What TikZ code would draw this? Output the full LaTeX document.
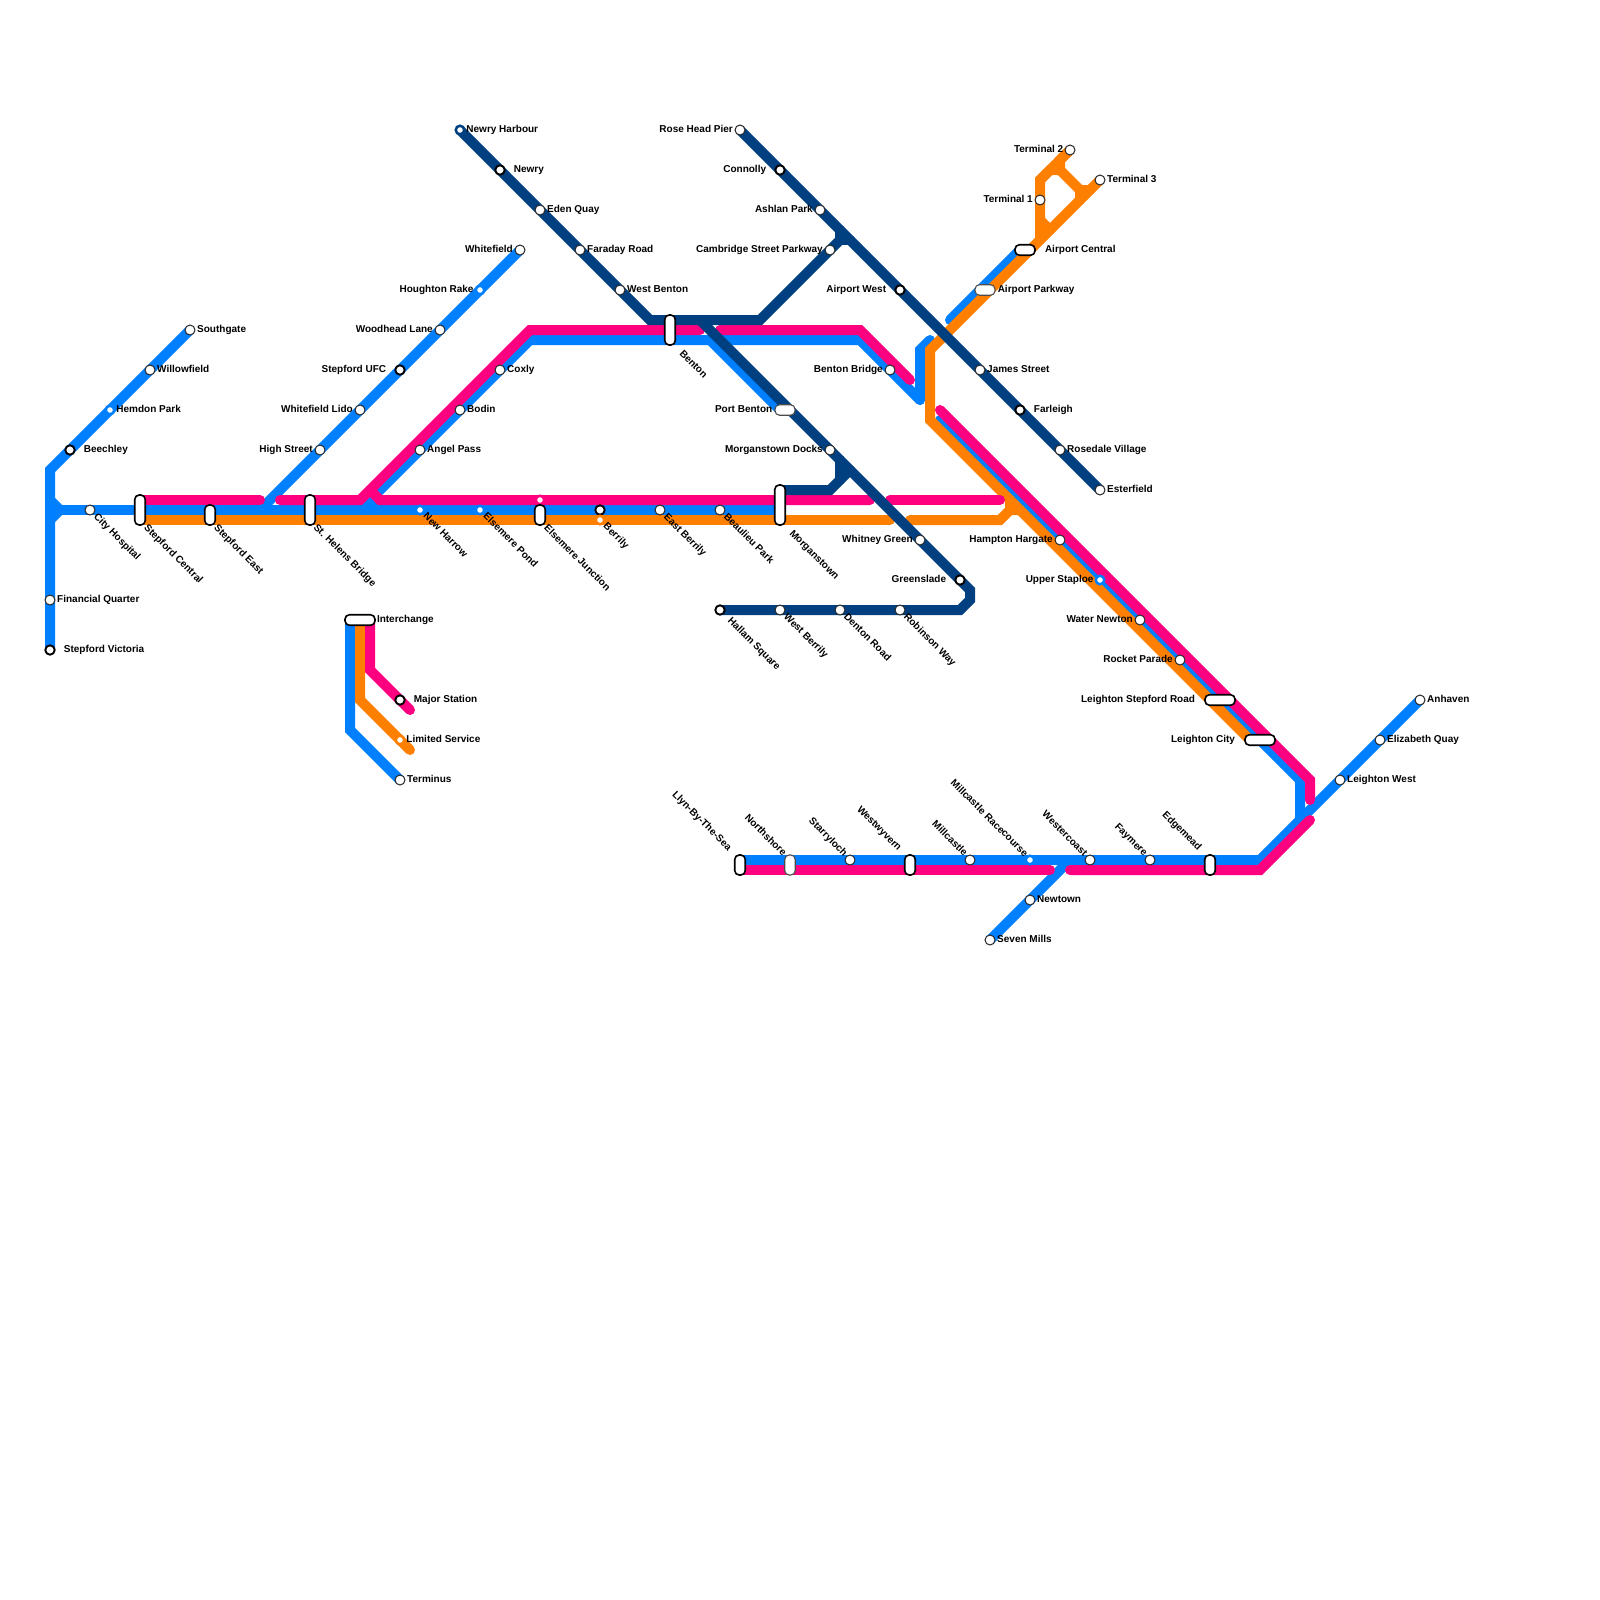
\documentclass[tikz,border=0pt]{standalone}
\usepackage{fontspec}
\setmainfont{Liberation Sans}
\usetikzlibrary{positioning, backgrounds}
\definecolor{lineBlue}{RGB}{0,128,255}
\definecolor{linePink}{RGB}{255,0,128}
\definecolor{lineOrange}{RGB}{255,128,0}
\definecolor{lineNavy}{RGB}{0,64,128}

\begin{document}
\begin{tikzpicture}[
    x=1pt, y=-1pt,
    stn/.style={circle, draw=black!85, fill=white, line width=1pt, outer sep=0pt, minimum size=10pt, inner sep=0pt},
    major/.style={circle, draw=black, fill=white, line width=1.9pt, outer sep=0pt, minimum size=9.4pt, inner sep=0pt},
    ltd/.style={circle, draw=#1, fill=white, line width=2.5pt, outer sep=0pt, minimum size=8.5pt, inner sep=0pt},
    pillv/.style={rectangle, rounded corners=4.4pt, draw=black, fill=white, line width=1.6pt, minimum width=10.5pt, minimum height=#1, inner sep=0pt},
    pillh/.style={rectangle, rounded corners=4.4pt, draw=black, fill=white, line width=1.6pt, minimum height=10.5pt, minimum width=#1, inner sep=0pt},
    thin pill/.style={draw=black!70, line width=1.1pt},
    rail/.style={draw=#1, line width=10pt, line cap=round, line join=miter},
    lbl/.style={font=\fontsize{10}{12}\selectfont\bfseries, inner sep=0pt, text height=5.5pt, text depth=1pt},
    lbldn/.style={lbl, rotate=-45, anchor=west},
    lblup/.style={lbl, rotate=-45, anchor=east}
]
\useasboundingbox (0,0) rectangle (1600,1600);

% West branch
\node[stn] (southgate) at (190,330) {};
\node[stn] (willowfield) at (150,370) {};
\node[ltd=lineBlue] (hemdon) at (110,410) {};
\node[major] (beechley) at (70,450) {};
\node[stn] (financial) at (50,600) {};
\node[major] (victoria) at (50,650) {};
\node[lbl, right=2pt of southgate] (southgatet) {Southgate};
\node[lbl, right=2pt of willowfield] (willowfieldt) {Willowfield};
\node[lbl, right=2pt of hemdon] (hemdont) {Hemdon Park};
\node[lbl, right=9pt of beechley] (beechleyt) {Beechley};
\node[lbl, right=2pt of financial] (financialt) {Financial Quarter};
\node[lbl, right=9pt of victoria] (victoriat) {Stepford Victoria};

% Main east-west stations
\node[stn] (cityhosp) at (90,510) {};
\node[pillv=30pt] (stepcentral) at (140,510) {};
\node[pillv=20pt] (stepeast) at (210,515) {};
\node[pillv=30pt] (sthelens) at (310,510) {};
\node[ltd=lineBlue] (newharrow) at (420,510) {};
\node[ltd=lineBlue] (elsmpond) at (480,510) {};
\node[ltd=linePink] (elsmtop) at (540,500) {};
\node[pillv=20pt] (elsmjunc) at (540,515) {};
\node[major] (berrily) at (600,510) {};
\node[ltd=lineOrange] (berrilyo) at (600,520) {};
\node[stn] (eastberrily) at (660,510) {};
\node[stn] (beaulieu) at (720,510) {};
\node[pillv=40pt] (morgan) at (780,505) {};
\node[lbl, below right=2.2pt and 1.2pt of cityhosp, lbldn] (cityhospt) {City Hospital};
\node[lbl, below right=1pt and -1pt of stepcentral, lbldn] (stepcentralt) {Stepford Central};
\node[lbl, below right=1pt and -1pt of stepeast, lbldn] (stepeastt) {Stepford East};
\node[lbl, below right=0.5pt and -1.5pt of sthelens, lbldn] (sthelenst) {St. Helens Bridge};
\node[lbl, below right=2.2pt and 1.2pt of newharrow, lbldn] (newharrowt) {New Harrow};
\node[lbl, below right=2.2pt and 1.2pt of elsmpond, lbldn] (elsmpondt) {Elsemere Pond};
\node[lbl, below right=1pt and -1pt of elsmjunc, lbldn] (elsmjunct) {Elsemere Junction};
\node[lbl, below right=2.2pt and 1.2pt of berrilyo, lbldn] (berrilyt) {Berrily};
\node[lbl, below right=2.2pt and 1.2pt of eastberrily, lbldn] (eastberrilyt) {East Berrily};
\node[lbl, below right=2.2pt and 1.2pt of beaulieu, lbldn] (beaulieut) {Beaulieu Park};
\node[lbl, below right=6.5pt and 4.5pt of morgan, lbldn] (morgant) {Morganstown};

% Whitefield branch
\node[stn] (whitefield) at (520,250) {};
\node[ltd=lineBlue] (houghton) at (480,290) {};
\node[stn] (woodhead) at (440,330) {};
\node[major] (stepufc) at (400,370) {};
\node[stn] (whitelido) at (360,410) {};
\node[stn] (highst) at (320,450) {};
\node[lbl, left=2pt of whitefield] (whitefieldt) {Whitefield};
\node[lbl, left=2pt of houghton] (houghtont) {Houghton Rake};
\node[lbl, left=2pt of woodhead] (woodheadt) {Woodhead Lane};
\node[lbl, left=9pt of stepufc] (stepufct) {Stepford UFC};
\node[lbl, left=2pt of whitelido] (whitelidot) {Whitefield Lido};
\node[lbl, left=2pt of highst] (highstt) {High Street};

% Coxly diagonal
\node[stn] (coxly) at (500,370) {};
\node[stn] (bodin) at (460,410) {};
\node[stn] (angel) at (420,450) {};
\node[lbl, right=2pt of coxly] (coxlyt) {Coxly};
\node[lbl, right=2pt of bodin] (bodint) {Bodin};
\node[lbl, right=2pt of angel] (angelt) {Angel Pass};

% Navy north
\node[ltd=lineNavy] (harbour) at (460,130) {};
\node[major] (newry) at (500,170) {};
\node[stn] (eden) at (540,210) {};
\node[stn] (faraday) at (580,250) {};
\node[stn] (westbenton) at (620,290) {};
\node[pillv=30pt] (benton) at (670,330) {};
\node[lbl, right=2pt of harbour] (harbourt) {Newry Harbour};
\node[lbl, right=9pt of newry] (newryt) {Newry};
\node[lbl, right=2pt of eden] (edent) {Eden Quay};
\node[lbl, right=2pt of faraday] (faradayt) {Faraday Road};
\node[lbl, right=2pt of westbenton] (westbentont) {West Benton};
\node[lbl, below right=6.5pt and 4.5pt of benton, lbldn] (bentont) {Benton};

% Navy pier line
\node[stn] (rosehead) at (740,130) {};
\node[major] (connolly) at (780,170) {};
\node[stn] (ashlan) at (820,210) {};
\node[stn] (cambridge) at (830,250) {};
\node[major] (airportw) at (900,290) {};
\node[stn] (james) at (980,370) {};
\node[major] (farleigh) at (1020,410) {};
\node[stn] (rosedale) at (1060,450) {};
\node[stn] (esterfield) at (1100,490) {};
\node[lbl, left=2pt of rosehead] (roseheadt) {Rose Head Pier};
\node[lbl, left=9pt of connolly] (connollyt) {Connolly};
\node[lbl, left=2pt of ashlan] (ashlant) {Ashlan Park};
\node[lbl, left=2pt of cambridge] (cambridget) {Cambridge Street Parkway};
\node[lbl, left=9pt of airportw] (airportwt) {Airport West};
\node[lbl, right=2pt of james] (jamest) {James Street};
\node[lbl, right=9pt of farleigh] (farleight) {Farleigh};
\node[lbl, right=2pt of rosedale] (rosedalet) {Rosedale Village};
\node[lbl, right=2pt of esterfield] (esterfieldt) {Esterfield};

% Navy south
\node[pillh=20pt, thin pill] (portbenton) at (785,410) {};
\node[stn] (morgandocks) at (830,450) {};
\node[stn] (whitney) at (920,540) {};
\node[major] (greenslade) at (960,580) {};
\node[stn] (robinson) at (900,610) {};
\node[stn] (denton) at (840,610) {};
\node[stn] (westberrily) at (780,610) {};
\node[major] (hallam) at (720,610) {};
\node[lbl, left=2pt of portbenton] (portbentont) {Port Benton};
\node[lbl, left=2pt of morgandocks] (morgandockst) {Morganstown Docks};
\node[lbl, left=2pt of whitney] (whitneyt) {Whitney Green};
\node[lbl, left=9pt of greenslade] (greensladet) {Greenslade};
\node[lbl, below right=2.2pt and 1.2pt of robinson, lbldn] (robinsont) {Robinson Way};
\node[lbl, below right=2.2pt and 1.2pt of denton, lbldn] (dentont) {Denton Road};
\node[lbl, below right=2.2pt and 1.2pt of westberrily, lbldn] (westberrilyt) {West Berrily};
\node[lbl, below right=6.5pt and 5.5pt of hallam, lbldn] (hallamt) {Hallam Square};

% Airport
\node[stn] (benbridge) at (890,370) {};
\node[pillh=20pt, thin pill] (airportpk) at (985,290) {};
\node[pillh=20pt] (airportc) at (1025,250) {};
\node[stn] (term1) at (1040,200) {};
\node[stn] (term2) at (1070,150) {};
\node[stn] (term3) at (1100,180) {};
\node[lbl, left=2pt of benbridge] (benbridget) {Benton Bridge};
\node[lbl, right=2pt of airportpk] (airportpkt) {Airport Parkway};
\node[lbl, right=9pt of airportc] (airportct) {Airport Central};
\node[lbl, left=2pt of term1] (term1t) {Terminal 1};
\node[lbl, left=1.5pt of term2] (term2t) {Terminal 2};
\node[lbl, right=2pt of term3] (term3t) {Terminal 3};

% Long diagonal
\node[stn] (hampton) at (1060,540) {};
\node[ltd=lineBlue] (staploe) at (1100,580) {};
\node[stn] (waternewton) at (1140,620) {};
\node[stn] (rocket) at (1180,660) {};
\node[pillh=30pt] (leightonsr) at (1220,700) {};
\node[pillh=30pt] (leightonc) at (1260,740) {};
\node[lbl, left=2pt of hampton] (hamptont) {Hampton Hargate};
\node[lbl, left=2pt of staploe] (staploet) {Upper Staploe};
\node[lbl, left=2pt of waternewton] (waternewtont) {Water Newton};
\node[lbl, left=2pt of rocket] (rockett) {Rocket Parade};
\node[lbl, left=9pt of leightonsr] (leightonsrt) {Leighton Stepford Road};
\node[lbl, left=9pt of leightonc] (leightonct) {Leighton City};

% East branch
\node[stn] (anhaven) at (1420,700) {};
\node[stn] (elizabeth) at (1380,740) {};
\node[stn] (leightonw) at (1340,780) {};
\node[lbl, right=2pt of anhaven] (anhavent) {Anhaven};
\node[lbl, right=2pt of elizabeth] (elizabetht) {Elizabeth Quay};
\node[lbl, right=2pt of leightonw] (leightonwt) {Leighton West};

% South coast
\node[pillv=20pt] (llyn) at (740,865) {};
\node[pillv=20pt, thin pill] (northshore) at (790,865) {};
\node[stn] (starry) at (850,860) {};
\node[pillv=20pt] (westwyvern) at (910,865) {};
\node[stn] (millcastle) at (970,860) {};
\node[ltd=lineBlue] (millrace) at (1030,860) {};
\node[stn] (westercoast) at (1090,860) {};
\node[stn] (faymere) at (1150,860) {};
\node[pillv=20pt] (edgemead) at (1210,865) {};
\node[stn] (newtown) at (1030,900) {};
\node[stn] (sevenmills) at (990,940) {};
\node[lbl, above left=4.5pt and 4.5pt of llyn, lblup] (llynt) {Llyn-By-The-Sea};
\node[lbl, above left=-0.5pt and 0pt of northshore, lblup] (northshoret) {Northshore};
\node[lbl, above left=1.3pt and 1.3pt of starry, lblup] (starryt) {Starryloch};
\node[lbl, above left=4.5pt and 4.5pt of westwyvern, lblup] (westwyvernt) {Westwyvern};
\node[lbl, above left=1.3pt and 1.3pt of millcastle, lblup] (millcastlet) {Millcastle};
\node[lbl, above left=1.3pt and 1.3pt of millrace, lblup] (millracet) {Millcastle Racecourse};
\node[lbl, above left=1.3pt and 1.3pt of westercoast, lblup] (westercoastt) {Westercoast};
\node[lbl, above left=1.3pt and 1.3pt of faymere, lblup] (faymeret) {Faymere};
\node[lbl, above left=4.5pt and 4.5pt of edgemead, lblup] (edgemeadt) {Edgemead};
\node[lbl, right=2pt of newtown] (newtownt) {Newtown};
\node[lbl, right=2pt of sevenmills] (sevenmillst) {Seven Mills};

% Key
\node[pillh=30pt] (keyint) at (360,620) {};
\node[major] (keymajor) at (400,700) {};
\node[ltd=lineOrange] (keyltd) at (400,740) {};
\node[stn] (keyterm) at (400,780) {};
\node[lbl, right=1pt of keyint] (keyintt) {Interchange};
\node[lbl, right=9pt of keymajor] (keymajort) {Major Station};
\node[lbl, right=2pt of keyltd] (keyltdt) {Limited Service};
\node[lbl, right=2pt of keyterm] (keytermt) {Terminus};

% === Way points ===
\coordinate (ba) at (50,470);
\coordinate (bb) at (50,500);
\coordinate (bc) at (60,510);
\coordinate (bd) at (50,520);
\coordinate (be) at (775,510);
\coordinate (bf) at (260,510);
\coordinate (bg) at (360,510);
\coordinate (bh) at (530,340);
\coordinate (bi) at (710,340);
\coordinate (bj) at (780,410);
\coordinate (bk) at (380,510);
\coordinate (bl) at (370,500);
\coordinate (bm) at (930,340);
\coordinate (bn) at (920,350);
\coordinate (bo) at (920,400);
\coordinate (bp) at (860,340);
\coordinate (bq) at (720,340);
\coordinate (br) at (950,320);
\coordinate (bs) at (1020,250);
\coordinate (bt) at (940,420);
\coordinate (bu) at (1300,780);
\coordinate (bv) at (1300,820);
\coordinate (bw) at (1260,860);
\coordinate (bx) at (740,860);
\coordinate (by) at (1070,860);
\coordinate (keyb1) at (350,620);
\coordinate (keyb2) at (350,730);

\coordinate (oa) at (140,520);
\coordinate (ob) at (890,520);
\coordinate (oc) at (910,520);
\coordinate (od) at (1000,520);
\coordinate (oe) at (1010,510);
\coordinate (of) at (1020,510);
\coordinate (og) at (1010,500);
\coordinate (oh) at (930,350);
\coordinate (oi) at (930,420);
\coordinate (oj) at (1250,740);
\coordinate (ok) at (1040,240);
\coordinate (ol) at (1040,180);
\coordinate (om) at (1050,170);
\coordinate (on) at (1060,170);
\coordinate (oo) at (1060,160);
\coordinate (op) at (1080,190);
\coordinate (oq) at (1090,190);
\coordinate (or) at (1080,200);
\coordinate (os) at (1040,220);
\coordinate (ot) at (1050,230);
\coordinate (keyo1) at (360,620);
\coordinate (keyo2) at (360,700);
\coordinate (keyo3) at (410,750);

\coordinate (pa) at (140,500);
\coordinate (pb) at (260,500);
\coordinate (pc) at (280,500);
\coordinate (pd) at (360,500);
\coordinate (pe) at (530,330);
\coordinate (pf) at (700,330);
\coordinate (pg) at (370,490);
\coordinate (ph) at (380,500);
\coordinate (pi) at (870,500);
\coordinate (pj) at (890,500);
\coordinate (pk) at (1000,500);
\coordinate (pl) at (720,330);
\coordinate (pm) at (860,330);
\coordinate (pn) at (910,380);
\coordinate (po) at (940,410);
\coordinate (pq) at (1310,780);
\coordinate (pr) at (1310,800);
\coordinate (ps) at (1310,820);
\coordinate (pt) at (1260,870);
\coordinate (pu) at (1070,870);
\coordinate (pv) at (1050,870);
\coordinate (pw) at (740,870);
\coordinate (keyp1) at (370,620);
\coordinate (keyp2) at (370,670);
\coordinate (keyp3) at (410,710);

\coordinate (na) at (650,320);
\coordinate (nb) at (760,320);
\coordinate (nc) at (840,240);
\coordinate (nd) at (840,230);
\coordinate (ne) at (850,240);
\coordinate (nf) at (700,320);
\coordinate (ng) at (970,590);
\coordinate (nh) at (970,600);
\coordinate (ni) at (960,610);
\coordinate (nj) at (780,490);
\coordinate (nk) at (830,490);
\coordinate (nl) at (850,470);
\coordinate (nm) at (840,480);
\coordinate (nn) at (840,460);

% === Lines ===
\begin{scope}[on background layer]
% Blue
\draw[rail=lineBlue] (southgate.center) -- (ba) -- (victoria.center);
\draw[rail=lineBlue] (bb) -- (bc) -- (bd);
\draw[rail=lineBlue] (bc) -- (be);
\draw[rail=lineBlue] (whitefield.center) -- (bf);
\draw[rail=lineBlue] (bg) -- (bh) -- (bi) -- (bj);
\draw[rail=lineBlue] (bk) -- (bl);
\draw[rail=lineBlue] (bm) -- (bn) -- (bo);
\draw[rail=lineBlue] (bo) -- (bp) -- (bq);
\draw[rail=lineBlue] (br) -- (bs);
\draw[rail=lineBlue] (bt) -- (bu) -- (bv) -- (bw) -- (bx);
\draw[rail=lineBlue] (anhaven.center) -- (bv);
\draw[rail=lineBlue] (sevenmills.center) -- (by);
\draw[rail=lineBlue] (keyb1) -- (keyb2) -- (keyterm.center);

% Orange
\draw[rail=lineOrange] (oa) -- (ob);
\draw[rail=lineOrange] (oc) -- (od) -- (oe) -- (of);
\draw[rail=lineOrange] (oe) -- (og);
\draw[rail=lineOrange] (term3.center) -- (oh) -- (oi) -- (oj);
\draw[rail=lineOrange] (ok) -- (ol) -- (term2.center);
\draw[rail=lineOrange] (ol) -- (om) -- (on) -- (op) -- (oq);
\draw[rail=lineOrange] (term2.center) -- (oo) -- (on);
\draw[rail=lineOrange] (op) -- (or);
\draw[rail=lineOrange] (os) -- (ot);
\draw[rail=lineOrange] (keyo1) -- (keyo2) -- (keyo3);

% Pink
\draw[rail=linePink] (pa) -- (pb);
\draw[rail=linePink] (pc) -- (pd) -- (pe) -- (pf);
\draw[rail=linePink] (pg) -- (ph) -- (pi);
\draw[rail=linePink] (pj) -- (pk);
\draw[rail=linePink] (pl) -- (pm) -- (pn);
\draw[rail=linePink] (po) -- (pq) -- (pr);
\draw[rail=linePink] (ps) -- (pt) -- (pu);
\draw[rail=linePink] (pv) -- (pw);
\draw[rail=linePink] (keyp1) -- (keyp2) -- (keyp3);

% Navy
\draw[rail=lineNavy] (harbour.center) -- (na) -- (nb) -- (nc) -- (nd);
\draw[rail=lineNavy] (nc) -- (ne);
\draw[rail=lineNavy] (rosehead.center) -- (esterfield.center);
\draw[rail=lineNavy] (nf) -- (ng) -- (nh) -- (ni) -- (hallam.center);
\draw[rail=lineNavy] (nj) -- (nk) -- (nl);
\draw[rail=lineNavy] (nm) -- (nn);
\end{scope}

\end{tikzpicture}
\end{document}
